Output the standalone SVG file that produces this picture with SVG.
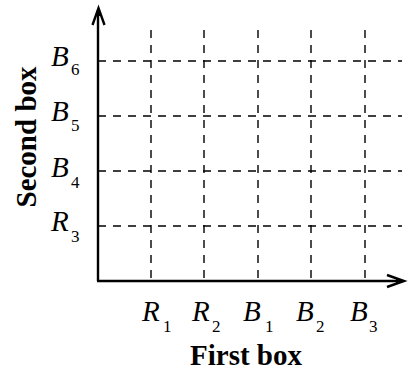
<svg xmlns="http://www.w3.org/2000/svg" width="408" height="371" viewBox="0 0 408 371">
<style>
.grid{stroke:#000;stroke-width:1.4;stroke-dasharray:8 7;fill:none}
.axis{stroke:#000;stroke-width:2.4;fill:none}
.lab{font-family:"Liberation Serif",serif;font-style:italic;font-size:29px;fill:#000}
.sub{font-family:"Liberation Serif",serif;font-style:normal;font-size:17px;fill:#000}
.title{font-family:"Liberation Serif",serif;font-weight:bold;font-size:29px;fill:#000}
</style>
<rect width="408" height="371" fill="#fff"/>
<g id="connectors">
<line class="grid" x1="151" y1="30" x2="151" y2="280"/>
<line class="grid" x1="204" y1="30" x2="204" y2="280"/>
<line class="grid" x1="258" y1="30" x2="258" y2="280"/>
<line class="grid" x1="311" y1="30" x2="311" y2="280"/>
<line class="grid" x1="365" y1="30" x2="365" y2="280"/>
<line class="grid" x1="98" y1="61" x2="402" y2="61"/>
<line class="grid" x1="98" y1="116" x2="402" y2="116"/>
<line class="grid" x1="98" y1="171" x2="402" y2="171"/>
<line class="grid" x1="98" y1="226" x2="402" y2="226"/>
</g>
<g id="axes">
<line class="axis" x1="98" y1="281" x2="98" y2="10"/>
<line class="axis" x1="97" y1="281" x2="401" y2="281"/>
<path d="M92.5,25 L98.5,8 L104.5,25" class="axis" stroke-width="2"/>
<path d="M98.5,7 L101,16 L96,16 Z" fill="#000"/>
<path d="M387,275 L404,281 L387,287" class="axis" stroke-width="2"/>
<path d="M405,281 L396,278.5 L396,283.5 Z" fill="#000"/>
</g>
<g id="y-labels">
<text class="lab" x="51" y="66">B<tspan class="sub" x="71" dy="9">6</tspan></text>
<text class="lab" x="51" y="121">B<tspan class="sub" x="71" dy="10">5</tspan></text>
<text class="lab" x="51" y="177">B<tspan class="sub" x="71" dy="11">4</tspan></text>
<text class="lab" x="51" y="231">R<tspan class="sub" x="71" dy="11">3</tspan></text>
</g>
<g id="x-labels">
<text class="lab" x="142" y="321">R<tspan class="sub" x="163" dy="11">1</tspan></text>
<text class="lab" x="192" y="321">R<tspan class="sub" x="212" dy="11">2</tspan></text>
<text class="lab" x="243" y="321">B<tspan class="sub" x="265" dy="11">1</tspan></text>
<text class="lab" x="296" y="321">B<tspan class="sub" x="316" dy="11">2</tspan></text>
<text class="lab" x="350" y="321">B<tspan class="sub" x="369" dy="11">3</tspan></text>
</g>
<g id="titles">
<text class="title" x="246" y="365" text-anchor="middle">First box</text>
<text class="title" transform="translate(36,137) rotate(-90)" text-anchor="middle">Second box</text>
</g>
</svg>
